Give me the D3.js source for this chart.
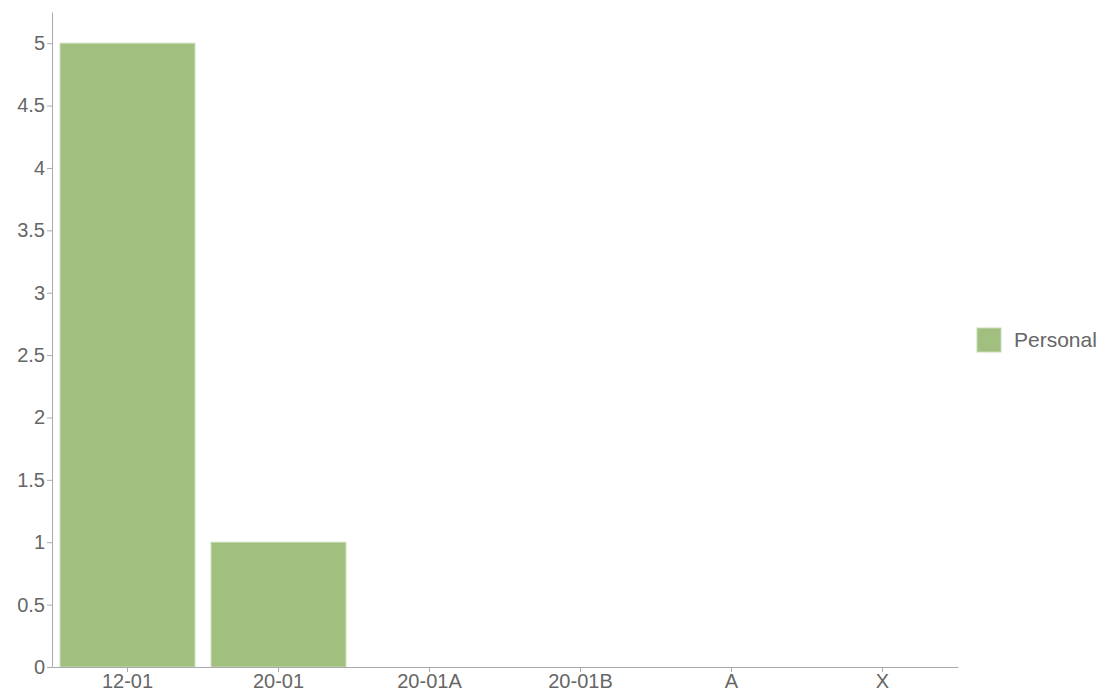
<!DOCTYPE html>
<html><head><meta charset="utf-8">
<script src="https://cdn.jsdelivr.net/npm/d3@7"></script>
<style>
body{margin:0;background:#fff;}
svg{display:block;font-family:"Liberation Sans",Arial,sans-serif;}
.axis path,.axis line{stroke:#aaa;}
.axis text{fill:#666;font-size:20px;}
</style></head><body>
<svg id="c" width="1101" height="697"></svg>
<script>
const categories = ["12-01","20-01","20-01A","20-01B","A","X"];
const personal = [5,1,0,0,0,0];
const seriesName = "Personal";
const yTicks = [0,0.5,1,1.5,2,2.5,3,3.5,4,4.5,5];

const svg = d3.select("#c");
const m = {left:52, top:12, right:143, bottom:30};
const W = 1101, H = 697;
const x = d3.scaleBand().domain(categories).range([m.left, W - m.right]).paddingInner(0.1).paddingOuter(0.05);
const y = d3.scaleLinear().domain([0, 5.25]).range([H - m.bottom, m.top]);

svg.append("g").selectAll("rect").data(categories.map((c,i)=>({c,v:personal[i]}))).join("rect")
  .attr("x", d=>x(d.c)+0.5).attr("width", x.bandwidth()-1)
  .attr("y", d=>y(d.v)).attr("height", d=>y(0)-y(d.v))
  .attr("fill","#a1bf7f").attr("stroke","#c8dbb5").attr("stroke-width",1);

const gx = svg.append("g").attr("class","axis").attr("transform",`translate(0,${H-m.bottom})`)
  .call(d3.axisBottom(x).tickSize(5).tickSizeOuter(0));
gx.selectAll("text").attr("y",7);
const gy = svg.append("g").attr("class","axis").attr("transform",`translate(${m.left},0)`)
  .call(d3.axisLeft(y).tickValues(yTicks).tickFormat(d3.format("")).tickSize(5).tickSizeOuter(0));
gy.selectAll("text").attr("x",-7);

const lg = svg.append("g").attr("transform","translate(977,328)");
lg.append("rect").attr("width",24).attr("height",24).attr("fill","#a1bf7f").attr("stroke","#c8dbb5");
lg.append("text").attr("x",37).attr("y",12).attr("dy","0.35em").attr("fill","#666").attr("font-size",21).text(seriesName);
</script></body></html>
